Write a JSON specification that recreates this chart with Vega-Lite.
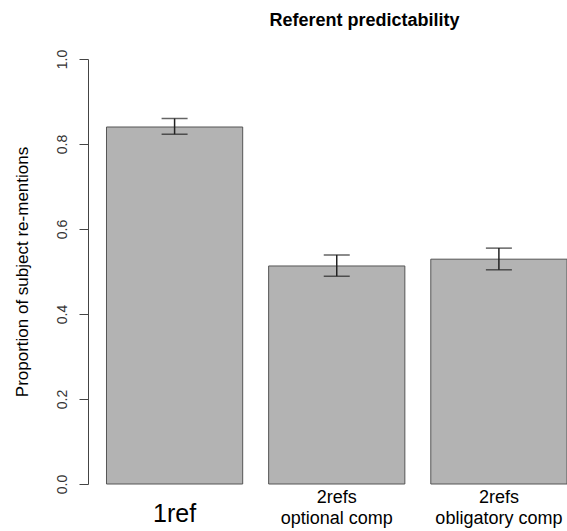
{
  "$schema": "https://vega.github.io/schema/vega-lite/v6.json",
  "autosize": {"type": "none"},
  "padding": {"left": 88, "top": 59, "right": 0, "bottom": 47},
  "width": 479,
  "height": 425,
  "background": "white",
  "title": {
    "text": "Referent predictability",
    "font": "Liberation Sans",
    "fontSize": 18,
    "fontWeight": "bold",
    "color": "black",
    "anchor": "middle",
    "frame": "group",
    "dx": 37,
    "offset": 19
  },
  "data": {
    "values": [
      {"condition": "1ref", "prop": 0.840, "lo": 0.823, "hi": 0.860},
      {"condition": "2refs\noptional comp", "prop": 0.513, "lo": 0.489, "hi": 0.539},
      {"condition": "2refs\nobligatory comp", "prop": 0.529, "lo": 0.504, "hi": 0.555}
    ]
  },
  "encoding": {
    "x": {
      "field": "condition",
      "type": "nominal",
      "sort": null,
      "scale": {"paddingInner": 0.16, "paddingOuter": 0.057, "align": 1},
      "axis": {
        "title": null,
        "domain": false,
        "ticks": false,
        "labelAngle": 0,
        "labelExpr": "split(datum.label, '\\n')",
        "labelFont": "Liberation Sans",
        "labelFontSize": {"condition": {"test": "datum.label == '1ref'", "value": 25}, "value": 18},
        "labelLineHeight": 21,
        "labelBaseline": "middle",
        "labelPadding": {"condition": {"test": "datum.label == '1ref'", "value": 29}, "value": 13},
        "labelColor": "black",
        "labelLimit": 300
      }
    }
  },
  "layer": [
    {
      "mark": {"type": "bar", "color": "#b3b3b3", "stroke": "#555555", "strokeWidth": 1},
      "encoding": {
        "y": {
          "field": "prop",
          "type": "quantitative",
          "scale": {"domain": [0, 1], "nice": false},
          "axis": {
            "title": "Proportion of subject re-mentions",
            "titleFont": "Liberation Sans",
            "titleFontSize": 17,
            "titleFontWeight": "normal",
            "titleColor": "black",
            "titlePadding": 24,
            "values": [0, 0.2, 0.4, 0.6, 0.8, 1.0],
            "format": ".1f",
            "grid": false,
            "domainColor": "#444444",
            "tickColor": "#444444",
            "tickSize": 9,
            "labelAngle": -90,
            "labelFont": "Liberation Sans",
            "labelFontSize": 14,
            "labelColor": "#333333",
            "labelPadding": 10
          }
        }
      }
    },
    {
      "mark": {"type": "rule", "color": "#222222", "strokeWidth": 1.5},
      "encoding": {
        "y": {"field": "lo", "type": "quantitative"},
        "y2": {"field": "hi"}
      }
    },
    {
      "mark": {"type": "tick", "color": "#222222", "size": 26, "thickness": 1.5},
      "encoding": {"y": {"field": "lo", "type": "quantitative"}}
    },
    {
      "mark": {"type": "tick", "color": "#222222", "size": 26, "thickness": 1.5},
      "encoding": {"y": {"field": "hi", "type": "quantitative"}}
    }
  ],
  "config": {"view": {"stroke": null}}
}
